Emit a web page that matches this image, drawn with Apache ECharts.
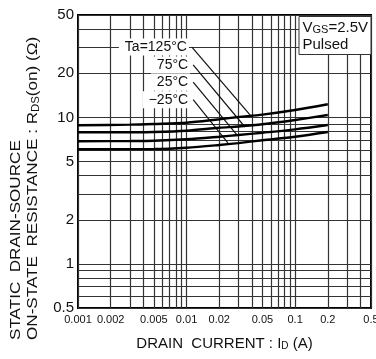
<!DOCTYPE html>
<html>
<head>
<meta charset="utf-8">
<script src="https://cdn.jsdelivr.net/npm/echarts@6/dist/echarts.min.js"></script>
<style>html,body{margin:0;padding:0;background:#fff}#c{width:376px;height:359px}</style>
</head>
<body>
<div id="c"></div>
<script>
// Drain current (A)
const currents = [0.001, 0.003, 0.005, 0.01, 0.02, 0.03, 0.05, 0.1, 0.2];
// RDS(on) (Ohm) per ambient temperature
const r125 = [8.83, 8.92, 9.02, 9.20, 9.72, 10.06, 10.45, 11.23, 12.29];
const r75 = [7.91, 7.92, 7.95, 8.11, 8.50, 8.67, 8.97, 9.60, 10.38];
const r25 = [6.87, 6.90, 6.93, 7.09, 7.38, 7.58, 7.86, 8.29, 8.87];
const rm25 = [6.06, 6.07, 6.08, 6.21, 6.48, 6.68, 6.98, 7.38, 7.95];
const seriesNames = ['Ta=125°C', '75°C', '25°C', '−25°C'];
// leader lines (data coords): start near label, end on curve
const leaderStart = [[0.0112, 30.2], [0.0115, 22.8], [0.0115, 17.4], [0.0115, 13.2]];
const leaderEnd = [[0.040, 10.06], [0.0345, 8.6], [0.0291, 7.59], [0.024, 6.69]];
// tick labels
const xTickLabels = [0.001, 0.002, 0.005, 0.01, 0.02, 0.05, 0.1, 0.2, 0.5];
const yTickLabels = [0.5, 1, 2, 5, 10, 20, 50];
// grid lines
const xGrid = [0.001,0.002,0.003,0.004,0.005,0.006,0.007,0.008,0.009,0.01,0.02,0.03,0.04,0.05,0.06,0.07,0.08,0.09,0.1,0.2,0.3,0.4,0.5];
const yGrid = [0.5,0.6,0.7,0.8,0.9,1,2,3,4,5,6,7,8,9,10,20,30,40,50];

const chart = echarts.init(document.getElementById('c'), null, {renderer: 'canvas'});
const fmt = v => String(+(+v).toPrecision(3));
const FONT = 'Liberation Sans, Arial, sans-serif';
const curves = [r125, r75, r25, rm25];
const series = [];
curves.forEach((arr, i) => {
  series.push({
    type: 'line', name: seriesNames[i], smooth: 0.3, showSymbol: false, symbol: 'none',
    data: currents.map((x, k) => [x, arr[k]]),
    lineStyle: {color: '#000', width: 2.4}, z: 3, silent: true
  });
  series.push({
    type: 'line', showSymbol: false, symbol: 'none',
    data: [leaderStart[i], leaderEnd[i]],
    lineStyle: {color: '#111', width: 1.2}, z: 2, silent: true
  });
});
series.push({
  type: 'scatter', symbolSize: 0, itemStyle: {color: '#000', opacity: 1}, z: 5, silent: true,
  data: leaderStart.map((p, i) => ({value: p, name: seriesNames[i]})),
  label: {
    show: true, position: 'left', distance: 3, formatter: p => p.name,
    color: '#111', opacity: 1, fontSize: 14, fontFamily: FONT,
    backgroundColor: '#fff', padding: [2, 2, 1, 6]
  }
});

chart.setOption({
  animation: false,
  backgroundColor: '#fff',
  grid: {left: 78, right: 5, top: 15, bottom: 51, show: true, borderColor: '#000', borderWidth: 2,
    backgroundColor: 'transparent', outerBoundsMode: 'none', containLabel: false},
  title: {
    text: '{a|V}{s|GS}{a|=2.5V}\n{a|Pulsed}',
    right: 5, top: 15, padding: [4, 3, 3, 4],
    backgroundColor: '#fff', borderColor: '#333', borderWidth: 1,
    textStyle: {
      fontWeight: 'normal',
      rich: {
        a: {fontSize: 15, fontWeight: 'normal', color: '#111', fontFamily: FONT, lineHeight: 17},
        s: {fontSize: 11, fontWeight: 'normal', color: '#111', fontFamily: FONT, lineHeight: 17, verticalAlign: 'bottom', padding: [0, 0, 1, 0]}
      }
    }
  },
  xAxis: {
    type: 'log', logBase: 10, min: 0.001, max: 0.5,
    name: 'DRAIN  CURRENT : I{s|D} (A)', nameLocation: 'middle', nameGap: 28,
    nameTextStyle: {
      fontSize: 15, color: '#111', fontFamily: FONT,
      rich: {s: {fontSize: 10, color: '#111', fontFamily: FONT, verticalAlign: 'bottom'}}
    },
    axisLine: {show: false},
    axisTick: {show: false, customValues: xGrid},
    axisLabel: {customValues: xTickLabels, formatter: fmt, margin: 6, fontSize: 11, color: '#111',
      fontFamily: 'Liberation Sans Narrow, Liberation Sans, Arial, sans-serif', showMinLabel: true, showMaxLabel: true, hideOverlap: false},
    splitLine: {show: true, lineStyle: {color: '#333', width: 1.2}}
  },
  yAxis: {
    type: 'log', logBase: 10, min: 0.5, max: 50,
    axisLine: {show: false},
    axisTick: {show: false, customValues: yGrid},
    axisLabel: {customValues: yTickLabels, formatter: fmt, margin: 4, fontSize: 15, color: '#111',
      fontFamily: FONT, showMinLabel: true, showMaxLabel: true, hideOverlap: false},
    splitLine: {show: true, lineStyle: {color: '#333', width: 1.2}}
  },
  graphic: [{
    type: 'text', x: 24, y: 340, rotation: Math.PI / 2, scaleX: 1.14, silent: true,
    style: {
      text: 'STATIC  DRAIN-SOURCE\nON-STATE  RESISTANCE : R{s|DS}(on) (Ω)',
      align: 'left', verticalAlign: 'middle', fill: '#111',
      font: '15px Liberation Sans, Arial, sans-serif', lineHeight: 17,
      rich: {s: {fontSize: 10, fill: '#111', fontFamily: FONT, verticalAlign: 'bottom', lineHeight: 17}}
    }
  }],
  series: series
});
</script>
</body>
</html>
